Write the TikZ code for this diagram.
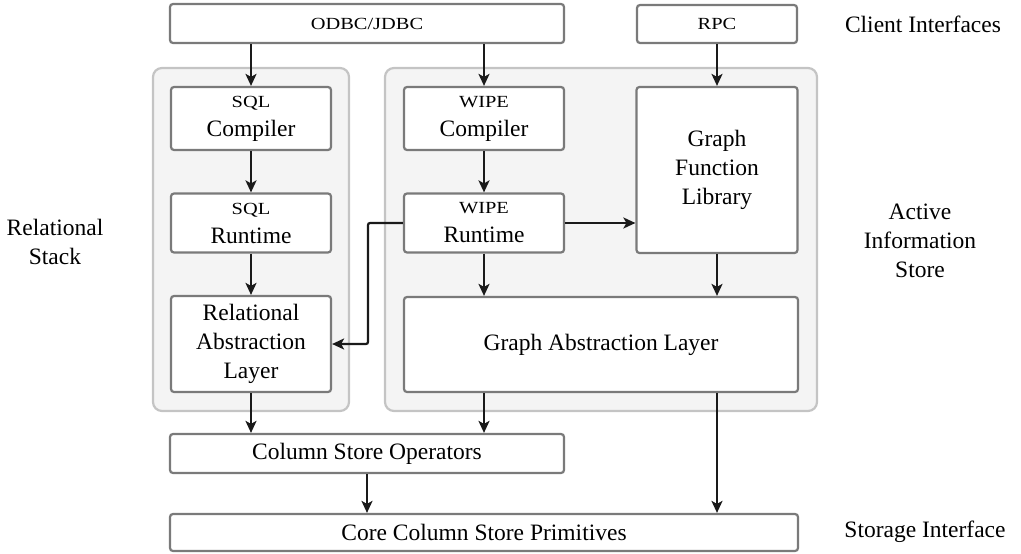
\documentclass[tikz,border=0pt]{standalone}
\usepackage{graphicx}
\usepackage{fontspec}
\setmainfont{Liberation Serif}
\usetikzlibrary{arrows.meta}
\definecolor{boxborder}{HTML}{7A7A7A}
\definecolor{contborder}{HTML}{C4C4C4}
\definecolor{contfill}{HTML}{F4F4F4}
\definecolor{arrowcol}{HTML}{1A1A1A}
\newcommand{\smc}[1]{\scalebox{1.2}[1]{\fontsize{17}{29}\selectfont #1}}
\begin{document}
\begin{tikzpicture}[x=1pt,y=-1pt,
  every node/.style={font=\rmfamily\fontsize{23.5}{29}\selectfont},
  box/.style={draw=boxborder, line width=2.2pt, fill=white, rounded corners=3pt, inner sep=0pt, align=center},
  container/.style={draw=contborder, line width=2.2pt, fill=contfill, rounded corners=9pt, inner sep=0pt},
  lbl/.style={align=center, inner sep=0pt},
  arr/.style={draw=arrowcol, line width=2.2pt, -{Stealth[length=12pt,width=11pt,inset=3pt]}}
]
\useasboundingbox (0,0) rectangle (1021,554);
% containers
\node[container, minimum width=196pt, minimum height=343pt] (leftc) at (251,239.5) {};
\node[container, minimum width=432pt, minimum height=343pt] (rightc) at (601,239.5) {};
% top interfaces
\node[box, minimum width=394pt, minimum height=39pt] (odbc) at (367,23.5) {\smc{ODBC/JDBC}};
\node[box, minimum width=160pt, minimum height=38pt] (rpc) at (717,24) {\smc{RPC}};
% relational stack
\node[box, minimum width=160pt, minimum height=63pt] (sqlc) at (251,118.5) {\smc{SQL}\\Compiler};
\node[box, minimum width=160pt, minimum height=59pt] (sqlr) at (251,223) {\smc{SQL}\\Runtime};
\node[box, minimum width=160pt, minimum height=96pt] (ral) at (251,344) {Relational\\Abstraction\\Layer};
% active information store
\node[box, minimum width=160pt, minimum height=63pt] (wipec) at (484,118.5) {\smc{WIPE}\\Compiler};
\node[box, minimum width=160pt, minimum height=59pt] (wiper) at (484,223) {\smc{WIPE}\\Runtime};
\node[box, minimum width=161pt, minimum height=166pt] (gfl) at (717,170) {Graph\\Function\\Library};
\node[box, minimum width=394pt, minimum height=95pt] (gal) at (601,344.5) {Graph Abstraction Layer};
% column store
\node[box, minimum width=394pt, minimum height=39pt] (cso) at (367,453.5) {Column Store Operators};
\node[box, minimum width=628pt, minimum height=37pt] (core) at (484,532.5) {Core Column Store Primitives};
% side labels
\node[lbl] (lci) at (923,24) {Client Interfaces};
\node[lbl] (lrs) at (55,242) {Relational\\Stack};
\node[lbl] (lais) at (920,241) {Active\\Information\\Store};
\node[lbl] (lsi) at (925,532) {Storage Interface};
% connectors
\draw[arr] (odbc.south -| sqlc.north) -- (sqlc.north);
\draw[arr] (odbc.south -| wipec.north) -- (wipec.north);
\draw[arr] (rpc.south) -- (gfl.north);
\draw[arr] (sqlc) -- (sqlr);
\draw[arr] (sqlr) -- (ral);
\draw[arr] (wipec) -- (wiper);
\draw[arr] (wiper.south) -- (wiper.south |- gal.north);
\draw[arr] (gfl.south) -- (gfl.south |- gal.north);
\draw[arr] (wiper.east) -- (gfl.west |- wiper.east);
\coordinate (bend) at (368,223);
\draw[arr, rounded corners=2pt] (wiper.west) -- (bend) |- (ral.east);
\draw[arr] (ral.south) -- (ral.south |- cso.north);
\draw[arr] (gal.south -| wiper.south) -- (wiper.south |- cso.north);
\draw[arr] (cso.south) -- (cso.south |- core.north);
\draw[arr] (gal.south -| gfl.south) -- (gfl.south |- core.north);
\end{tikzpicture}
\end{document}
